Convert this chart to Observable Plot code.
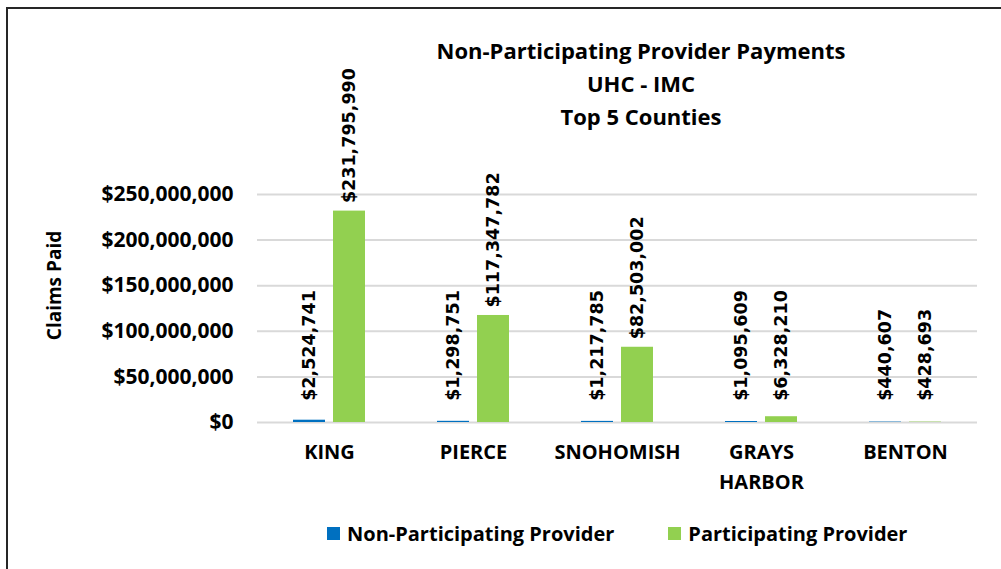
<!DOCTYPE html>
<html><head><meta charset="utf-8">
<script src="https://cdn.jsdelivr.net/npm/d3@7"></script>
<script src="https://cdn.jsdelivr.net/npm/@observablehq/plot@0.6"></script>
<style>
body{margin:0;background:#fff;}
#wrap{position:relative;width:1001px;height:569px;overflow:hidden;font-family:"Open Sans",sans-serif;color:#000;}
#frame{position:absolute;left:6px;top:7px;right:-10px;bottom:-10px;border-top:2px solid #262626;border-left:2px solid #262626;}
#chart{position:absolute;left:0;top:0;}
#title{position:absolute;left:341px;width:600px;top:34px;text-align:center;font-weight:700;font-size:22px;line-height:33px;}
#legend{position:absolute;left:327px;top:517px;}
.lg-swatch{margin-right:54px !important;}
.lg-swatch > svg{margin-right:7px !important;}
</style>
</head><body>
<div id="wrap">
  <div id="frame"></div>
  <div id="chart"></div>
  <div id="title">Non-Participating Provider Payments<br>UHC - IMC<br>Top 5 Counties</div>
  <div id="legend"></div>
</div>
<script>
const counties = ["KING", "PIERCE", "SNOHOMISH", "GRAYS HARBOR", "BENTON"];
const series = ["Non-Participating Provider", "Participating Provider"];
const nonParticipating = [2524741, 1298751, 1217785, 1095609, 440607];
const participating = [231795990, 117347782, 82503002, 6328210, 428693];
const yTicks = [0, 50000000, 100000000, 150000000, 200000000, 250000000];
const colors = ["#0070C0", "#92D050"];
const yLabel = "Claims Paid";

const data = counties.flatMap((c, i) => [
  {county: c, series: series[0], value: nonParticipating[i]},
  {county: c, series: series[1], value: participating[i]}
]);
const fmt = d3.format("$,");

const chart = Plot.plot({
  width: 1001, height: 569,
  marginLeft: 256, marginRight: 23, marginTop: 194, marginBottom: 147,
  style: {background: "transparent", fontFamily: "Open Sans", color: "#000", overflow: "visible"},
  fx: {domain: counties, padding: 0, label: null},
  x: {domain: series, paddingInner: 0.195, paddingOuter: 0.858, axis: null},
  y: {domain: [0, 250000000], label: null},
  color: {domain: series, range: colors},
  marks: [
    Plot.gridY(yTicks, {stroke: "#d9d9d9", strokeOpacity: 1, strokeWidth: 2}),
    Plot.axisY(yTicks, {tickFormat: fmt, tickSize: 0, tickPadding: 24, fontSize: 21, fontWeight: 700, label: null}),
    Plot.axisFx({anchor: "bottom", tickSize: 0, tickPadding: 15, fontSize: 20, fontWeight: 700, lineHeight: 1.5,
      tickFormat: d => d.replace(" ", "\n"), label: null}),
    Plot.barY(data, {fx: "county", x: "series", y: "value", fill: "series"}),
    Plot.text(data, {fx: "county", x: "series", y: d => Math.max(d.value, 15000000), text: d => fmt(d.value),
      rotate: -90, textAnchor: "start", dy: -8, fontFamily: "DejaVu Sans", fontWeight: 700, fontSize: 17.5, fill: "#000"}),
    Plot.text([yLabel], {fx: [counties[0]], text: d => d, frameAnchor: "left", textAnchor: "middle", dx: -203, dy: -23, rotate: -90,
      fontSize: 19, fontWeight: 700, fill: "#000"})
  ]
});
document.getElementById("chart").appendChild(chart);

const legend = Plot.legend({
  color: {domain: series, range: colors},
  className: "lg", swatchSize: 13,
  style: {fontFamily: "Open Sans", fontSize: "20px", fontWeight: 700, color: "#000"}
});
document.getElementById("legend").appendChild(legend);
</script>
</body></html>
